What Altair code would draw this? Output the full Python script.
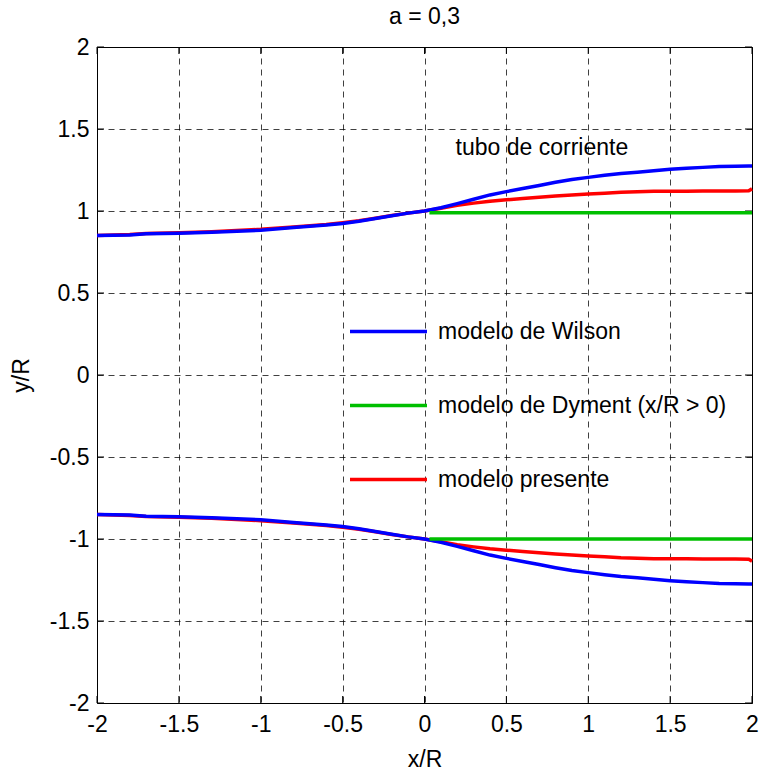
import altair as alt
import pandas as pd

# ---- data ----
x_pts = [-2.0, -1.8, -1.7, -1.5, -1.3, -1.0, -0.8, -0.6, -0.5, -0.4, -0.3, -0.2, -0.1,
         0.0, 0.1, 0.2, 0.3, 0.4, 0.5, 0.6, 0.7, 0.8, 0.9, 1.0, 1.1, 1.2, 1.3, 1.4,
         1.5, 1.6, 1.7, 1.8, 1.9, 1.98, 2.0]
wilson_upper = [0.851, 0.853, 0.861, 0.864, 0.870, 0.883, 0.899, 0.914, 0.924, 0.937,
                0.954, 0.971, 0.987, 1.000, 1.020, 1.045, 1.072, 1.098, 1.118, 1.137,
                1.156, 1.175, 1.192, 1.205, 1.218, 1.229, 1.237, 1.246, 1.254, 1.260,
                1.266, 1.272, 1.273, 1.275, 1.275]
presente_upper = [0.851, 0.856, 0.863, 0.867, 0.874, 0.888, 0.903, 0.918, 0.928, 0.940,
                  0.956, 0.972, 0.987, 1.000, 1.017, 1.035, 1.048, 1.060, 1.068, 1.076,
                  1.084, 1.092, 1.098, 1.103, 1.108, 1.114, 1.117, 1.120, 1.121, 1.121,
                  1.122, 1.122, 1.122, 1.124, 1.135]
dyment_x = [0.03, 2.0]
dyment_upper = [0.99, 0.99]
dyment_lower = [-1.0, -1.0]

series_names = ["modelo de Wilson", "modelo de Dyment (x/R > 0)", "modelo presente"]
series_colors = ["#0000FF", "#00BF00", "#FF0000"]
tick_values = [-2, -1.5, -1, -0.5, 0, 0.5, 1, 1.5, 2]

title_text = "a = 0,3"
annotation = "tubo de corriente"

# ---- build tables ----
rows = []
for xv, w, p in zip(x_pts, wilson_upper, presente_upper):
    rows.append({"x": xv, "y": w, "serie": series_names[0], "rama": "sup"})
    rows.append({"x": xv, "y": -w, "serie": series_names[0], "rama": "inf"})
    rows.append({"x": xv, "y": p, "serie": series_names[2], "rama": "sup"})
    rows.append({"x": xv, "y": -p, "serie": series_names[2], "rama": "inf"})
for xv, u, l in zip(dyment_x, dyment_upper, dyment_lower):
    rows.append({"x": xv, "y": u, "serie": series_names[1], "rama": "sup"})
    rows.append({"x": xv, "y": l, "serie": series_names[1], "rama": "inf"})
df = pd.DataFrame(rows)
ticks = pd.DataFrame({"v": tick_values})

W, H = 655, 656
FONT = "Liberation Sans"
FS = 23
label_expr = "datum.value < 0 ? '-' + format(-datum.value, '~g') : format(datum.value, '~g')"

scale_x = alt.Scale(domain=[-2, 2], nice=False, zero=False)
scale_y = alt.Scale(domain=[-2, 2], nice=False, zero=False)
axis_x = alt.Axis(values=tick_values, labelExpr=label_expr, title="x/R",
                  labelFlush=False, labelOverlap=False, labelPadding=10, titlePadding=12)
axis_y = alt.Axis(values=tick_values, labelExpr=label_expr, title="y/R",
                  labelFlush=False, labelOverlap=False, labelPadding=8, titlePadding=16)

def X(field):
    return alt.X(field, type="quantitative", scale=scale_x, axis=axis_x)

def Y(field):
    return alt.Y(field, type="quantitative", scale=scale_y, axis=axis_y)

color = alt.Color("serie:N",
                  scale=alt.Scale(domain=series_names, range=series_colors),
                  sort=series_names,
                  legend=alt.Legend(title=None, orient="none", legendX=251, legendY=244,
                                    symbolType="stroke", symbolSize=5929,
                                    symbolStrokeWidth=3.5, labelFontSize=FS,
                                    labelFont=FONT, labelColor="black",
                                    labelOffset=9, rowPadding=21, padding=0,
                                    labelLimit=400))

def lines(name):
    return alt.Chart(df[df["serie"] == name]).mark_line(strokeWidth=3.5).encode(
        x=X("x"), y=Y("y"), color=color, detail="rama:N", order="x:Q")

red = lines(series_names[2])
blue = lines(series_names[0])
green = lines(series_names[1])

text_df = pd.DataFrame({"x": [0.19], "y": [1.386], "t": [annotation]})
label = alt.Chart(text_df).mark_text(align="left", baseline="middle", fontSize=FS,
                                      font=FONT, color="black").encode(
    x=X("x"), y=Y("y"), text="t:N")

tb = alt.Chart(ticks).mark_rule(color="black", strokeWidth=1)
t_bottom = tb.encode(x=X("v"), y=alt.value(H), y2=alt.value(H - 7))
t_top = tb.encode(x=X("v"), y=alt.value(0), y2=alt.value(7))
t_left = tb.encode(y=Y("v"), x=alt.value(0), x2=alt.value(7))
t_right = tb.encode(y=Y("v"), x=alt.value(W), x2=alt.value(W - 7))

chart = alt.layer(t_bottom, t_top, t_left, t_right, red, blue, green, label).properties(
    width=W, height=H,
    background="white",
    title=alt.TitleParams(title_text, fontSize=FS, font=FONT, fontWeight="normal",
                          color="black", anchor="middle", offset=-16,
                          baseline="bottom"),
    autosize=alt.AutoSizeParams(type="none"),
    padding={"left": 97, "top": 47, "right": 10, "bottom": 69},
).configure_view(stroke="black", strokeWidth=1).configure_axis(
    domain=False, ticks=False, grid=True, gridDash=[6, 5], gridColor="#000000",
    gridOpacity=0.75, gridWidth=1, labelFont=FONT, labelFontSize=FS,
    labelColor="black", titleFont=FONT, titleFontSize=FS, titleFontWeight="normal",
    titleColor="black",
)

chart.save("out.html", embed_options={"renderer": "svg", "actions": False})
